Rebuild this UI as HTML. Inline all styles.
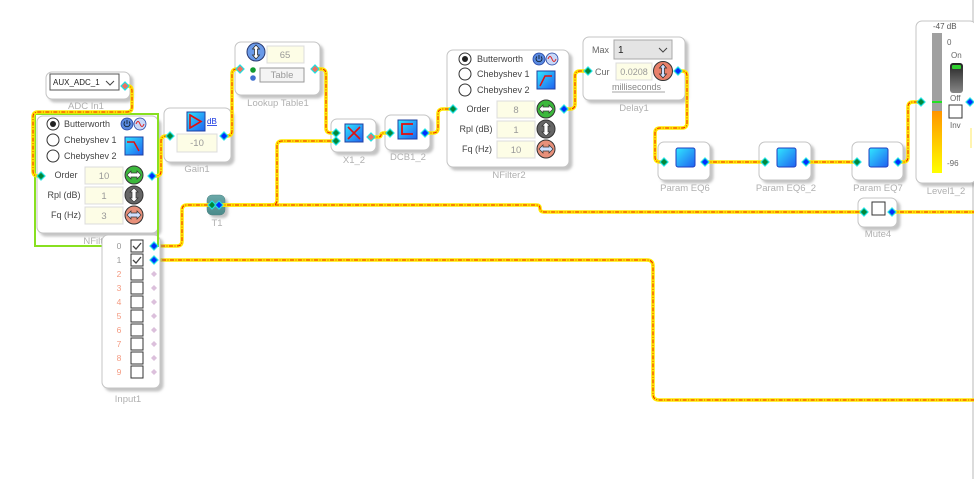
<!DOCTYPE html>
<html><head><meta charset="utf-8">
<style>
html,body{margin:0;padding:0;background:#fff;}
svg{display:block;font-family:"Liberation Sans",sans-serif;}
.lbl{font-size:9.5px;fill:#b0b0b0;text-anchor:middle;}
.t{font-size:9px;fill:#444;}
.tc{font-size:9px;fill:#444;text-anchor:middle;}
.tb{font-size:9.5px;fill:#999;text-anchor:middle;}
.box{fill:#fff;stroke:#c4c4c4;stroke-width:1;}
.tbx{fill:#fdfde6;stroke:#dcdcdc;stroke-width:1;}
.wy{fill:none;stroke:#ffe800;stroke-width:3.5;stroke-linejoin:round;}
.wr{fill:none;stroke:#f02000;stroke-width:1;stroke-dasharray:4 1.5 1 1.5;}
.pg{fill:#00883a;stroke:#20e0e0;stroke-width:1.2;}
.pb{fill:#0030ff;stroke:#20e0e0;stroke-width:1.2;}
.pr{fill:#f07060;stroke:#20e0e0;stroke-width:1.2;}
.pp{fill:#dcc0dc;}
</style></head>
<body>
<svg width="974" height="479" viewBox="0 0 974 479" xmlns="http://www.w3.org/2000/svg">
<defs>
<filter id="sh" x="-10%" y="-10%" width="130%" height="130%">
<feDropShadow dx="3" dy="3" stdDeviation="1.2" flood-color="#888" flood-opacity="0.5"/>
</filter>
<linearGradient id="ic" x1="0" y1="0" x2="1" y2="1">
<stop offset="0" stop-color="#30e8ff"/><stop offset="1" stop-color="#2060f0"/>
</linearGradient>
<linearGradient id="lv" x1="0" y1="0" x2="0" y2="1">
<stop offset="0" stop-color="#ff9500"/><stop offset="1" stop-color="#ffff00"/>
</linearGradient>
<linearGradient id="tg" x1="0" y1="0" x2="0" y2="1">
<stop offset="0" stop-color="#222"/><stop offset="1" stop-color="#888"/>
</linearGradient>
<linearGradient id="teal" x1="0" y1="0" x2="0" y2="1">
<stop offset="0" stop-color="#6aa8a8"/><stop offset="1" stop-color="#4a8a8a"/>
</linearGradient>
</defs>

<line x1="973" y1="0" x2="973" y2="479" stroke="#d0d0d0" stroke-width="1.5"/>

<!-- ===== NODES ===== -->
<g filter="url(#sh)">
<rect class="box" x="46" y="72" width="84" height="27" rx="6"/>
<rect class="box" x="37" y="116" width="121" height="117" rx="6"/>
<rect class="box" x="164" y="108" width="67" height="54" rx="6"/>
<rect class="box" x="235" y="42" width="85" height="53" rx="6"/>
<rect class="box" x="331" y="119" width="45" height="33" rx="6"/>
<rect class="box" x="385" y="115" width="45" height="35" rx="6"/>
<rect class="box" x="447" y="50" width="122" height="117" rx="6"/>
<rect class="box" x="583" y="37" width="102" height="63" rx="6"/>
<rect class="box" x="658" y="142" width="52" height="38" rx="6"/>
<rect class="box" x="759" y="142" width="52" height="38" rx="6"/>
<rect class="box" x="852" y="142" width="51" height="38" rx="6"/>
<rect class="box" x="858" y="198" width="39" height="29" rx="6"/>
<rect class="box" x="916" y="21" width="60" height="162" rx="6"/>
<rect x="207" y="195" width="18" height="20" rx="5" fill="url(#teal)" stroke="#4a8080" stroke-width="0.5"/>
</g>

<!-- labels -->
<text class="lbl" x="86" y="109">ADC In1</text>
<text class="lbl" x="100" y="244">NFilter1</text>
<text class="lbl" x="197" y="172">Gain1</text>
<text class="lbl" x="278" y="106">Lookup Table1</text>
<text class="lbl" x="354" y="163">X1_2</text>
<text class="lbl" x="408" y="160">DCB1_2</text>
<text class="lbl" x="509" y="178">NFilter2</text>
<text class="lbl" x="634" y="111">Delay1</text>
<text class="lbl" x="685" y="191">Param EQ6</text>
<text class="lbl" x="786" y="191">Param EQ6_2</text>
<text class="lbl" x="878" y="191">Param EQ7</text>
<text class="lbl" x="878" y="237">Mute4</text>
<text class="lbl" x="946" y="194">Level1_2</text>
<text class="lbl" x="217" y="226">T1</text>

<rect x="35" y="114" width="123" height="132" fill="none" stroke="#88e020" stroke-width="2"/>

<!-- ===== WIRES ===== -->
<g>
<path class="wy" d="M125,86 H128 Q132,86 132,91 V107 Q132,112 127,112 H38 Q33,112 33,117 V171 Q33,176 38,176 H41"/>
<path class="wy" d="M152,176 H156 Q161,176 161,171 V141 Q161,136 166,136 H170"/>
<path class="wy" d="M224,136 H227 Q232,136 232,131 V74 Q232,69 237,69 H240"/>
<path class="wy" d="M315,69 H321 Q326,69 326,74 V128 Q326,133 331,133 H336"/>
<path class="wy" d="M219,205 H272 Q277,205 277,200 V146 Q277,141 282,141 H336"/>
<path class="wy" d="M219,205 H536 Q540,205 540,208 Q540,212 544,212 H864"/>
<path class="wy" d="M892,212 H974"/>
<path class="wy" d="M153,246 H177 Q182,246 182,241 V210 Q182,205 187,205 H212"/>
<path class="wy" d="M154,260 H647 Q653,260 653,266 V394 Q653,400 659,400 H974"/>
<path class="wy" d="M371,137 H378 Q381,137 381,135 Q381,133 384,133 H390"/>
<path class="wy" d="M425,133 H433 Q438,133 438,128 V114 Q438,109 443,109 H453"/>
<path class="wy" d="M564,109 H570 Q575,109 575,104 V76 Q575,71 580,71 H588"/>
<path class="wy" d="M678,71 H682 Q687,71 687,76 V123 Q687,128 682,128 H660 Q655,128 655,133 V157 Q655,162 660,162 H664"/>
<path class="wy" d="M705,162 H765"/>
<path class="wy" d="M806,162 H857"/>
<path class="wy" d="M898,162 H903 Q908,162 908,157 V107 Q908,102 913,102 H921"/>

<path class="wr" d="M125,86 H128 Q132,86 132,91 V107 Q132,112 127,112 H38 Q33,112 33,117 V171 Q33,176 38,176 H41"/>
<path class="wr" d="M152,176 H156 Q161,176 161,171 V141 Q161,136 166,136 H170"/>
<path class="wr" d="M224,136 H227 Q232,136 232,131 V74 Q232,69 237,69 H240"/>
<path class="wr" d="M315,69 H321 Q326,69 326,74 V128 Q326,133 331,133 H336"/>
<path class="wr" d="M219,205 H272 Q277,205 277,200 V146 Q277,141 282,141 H336"/>
<path class="wr" d="M219,205 H536 Q540,205 540,208 Q540,212 544,212 H864"/>
<path class="wr" d="M892,212 H974"/>
<path class="wr" d="M153,246 H177 Q182,246 182,241 V210 Q182,205 187,205 H212"/>
<path class="wr" d="M154,260 H647 Q653,260 653,266 V394 Q653,400 659,400 H974"/>
<path class="wr" d="M371,137 H378 Q381,137 381,135 Q381,133 384,133 H390"/>
<path class="wr" d="M425,133 H433 Q438,133 438,128 V114 Q438,109 443,109 H453"/>
<path class="wr" d="M564,109 H570 Q575,109 575,104 V76 Q575,71 580,71 H588"/>
<path class="wr" d="M678,71 H682 Q687,71 687,76 V123 Q687,128 682,128 H660 Q655,128 655,133 V157 Q655,162 660,162 H664"/>
<path class="wr" d="M705,162 H765"/>
<path class="wr" d="M806,162 H857"/>
<path class="wr" d="M898,162 H903 Q908,162 908,157 V107 Q908,102 913,102 H921"/>
</g>

<!-- ===== ADC In1 content ===== -->
<rect x="50" y="74" width="69" height="16" fill="#fff" stroke="#555" stroke-width="1"/>
<text x="53" y="85" style="font-size:8px;fill:#222">AUX_ADC_1</text>
<path d="M106,81 L110,85 L114,81" fill="none" stroke="#444" stroke-width="1"/>

<!-- ===== NFilter1 content ===== -->
<circle cx="53" cy="124" r="6" fill="#fff" stroke="#333"/><circle cx="53" cy="124" r="3" fill="#222"/>
<circle cx="53" cy="140" r="6" fill="#fff" stroke="#333"/>
<circle cx="53" cy="156" r="6" fill="#fff" stroke="#333"/>
<text class="t" x="64" y="127">Butterworth</text>
<text class="t" x="64" y="143">Chebyshev 1</text>
<text class="t" x="64" y="159">Chebyshev 2</text>
<circle cx="127" cy="124" r="6" fill="#5a8ae0" stroke="#2040a0" stroke-width="0.8"/>
<path d="M125,121.5 A3,3 0 1 0 129,121.5 M127,120 V124" fill="none" stroke="#123" stroke-width="0.9"/>
<circle cx="140" cy="124" r="6" fill="#c8d8f8" stroke="#2040a0" stroke-width="0.8"/>
<path d="M136,124 Q138,119 140,124 Q142,129 144,124" fill="none" stroke="#e02020" stroke-width="1"/>
<rect x="125" y="137" width="18" height="18" fill="url(#ic)" stroke="#2040a0" stroke-width="1"/>
<path d="M127,142 H134 L139,151" fill="none" stroke="#e01010" stroke-width="1.5"/>
<text class="tc" x="66" y="178">Order</text>
<text class="tc" x="64" y="198">Rpl (dB)</text>
<text class="tc" x="66" y="218">Fq (Hz)</text>
<rect class="tbx" x="85" y="167" width="38" height="17"/><text class="tb" x="104" y="179">10</text>
<rect class="tbx" x="85" y="187" width="38" height="17"/><text class="tb" x="104" y="199">1</text>
<rect class="tbx" x="85" y="207" width="38" height="17"/><text class="tb" x="104" y="219">3</text>
<circle cx="134" cy="175" r="9" fill="#3cb83c" stroke="#333"/>
<polygon points="127,175 131,171 131,173 137,173 137,171 141,175 137,179 137,177 131,177 131,179" fill="#fff" stroke="#333" stroke-width="0.7"/>
<circle cx="134" cy="195" r="9" fill="#666" stroke="#333"/>
<polygon points="134,188 138,192 136,192 136,198 138,198 134,202 130,198 132,198 132,192 130,192" fill="#fff" stroke="#333" stroke-width="0.7"/>
<circle cx="134" cy="215" r="9" fill="#e8907a" stroke="#333"/>
<polygon points="127,215 131,211 131,213 137,213 137,211 141,215 137,219 137,217 131,217 131,219" fill="#cfe0ff" stroke="#333" stroke-width="0.7"/>
<polygon class="pg" points="37,176 41,172 45,176 41,180"/>
<polygon class="pb" points="148,176 152,172 156,176 152,180"/>
<polygon class="pr" points="121,86 125,82 129,86 125,90"/>

<!-- ===== Input1 ===== -->
<g filter="url(#sh)">
<rect class="box" x="102" y="235" width="58" height="153" rx="6"/>
</g>
<text class="lbl" x="128" y="402">Input1</text>
<line x1="150" y1="246" x2="159" y2="246" stroke="#88e020" stroke-width="2"/>
<line x1="158" y1="235" x2="158" y2="247" stroke="#88e020" stroke-width="2"/>
<g style="font-size:8.5px" text-anchor="middle">
<text x="119" y="249" fill="#999">0</text>
<text x="119" y="263" fill="#999">1</text>
<text x="119" y="277" fill="#f49a80">2</text>
<text x="119" y="291" fill="#f49a80">3</text>
<text x="119" y="305" fill="#f49a80">4</text>
<text x="119" y="319" fill="#f49a80">5</text>
<text x="119" y="333" fill="#f49a80">6</text>
<text x="119" y="347" fill="#f49a80">7</text>
<text x="119" y="361" fill="#f49a80">8</text>
<text x="119" y="375" fill="#f49a80">9</text>
</g>
<g fill="#fff" stroke="#333" stroke-width="1">
<rect x="131" y="240" width="12" height="12"/>
<rect x="131" y="254" width="12" height="12"/>
<rect x="131" y="268" width="12" height="12"/>
<rect x="131" y="282" width="12" height="12"/>
<rect x="131" y="296" width="12" height="12"/>
<rect x="131" y="310" width="12" height="12"/>
<rect x="131" y="324" width="12" height="12"/>
<rect x="131" y="338" width="12" height="12"/>
<rect x="131" y="352" width="12" height="12"/>
<rect x="131" y="366" width="12" height="12"/>
</g>
<path d="M133,246 L136,249 L141,243 M133,260 L136,263 L141,257" fill="none" stroke="#444" stroke-width="1.3"/>
<polygon class="pb" points="150,246 154,242 158,246 154,250"/>
<polygon class="pb" points="150,260 154,256 158,260 154,264"/>
<g class="pp">
<polygon points="151,274 154,271 157,274 154,277"/>
<polygon points="151,288 154,285 157,288 154,291"/>
<polygon points="151,302 154,299 157,302 154,305"/>
<polygon points="151,316 154,313 157,316 154,319"/>
<polygon points="151,330 154,327 157,330 154,333"/>
<polygon points="151,344 154,341 157,344 154,347"/>
<polygon points="151,358 154,355 157,358 154,361"/>
<polygon points="151,372 154,369 157,372 154,375"/>
</g>

<!-- ===== Gain1 ===== -->
<rect x="187" y="112" width="18" height="19" fill="url(#ic)" stroke="#2040a0"/>
<polygon points="190,115 201,121.5 190,128" fill="none" stroke="#e01010" stroke-width="1.6"/>
<text x="207" y="124" style="font-size:8px;fill:#1030e0">dB</text>
<line x1="207" y1="125.5" x2="217" y2="125.5" stroke="#1030e0" stroke-width="0.8"/>
<rect class="tbx" x="177" y="134" width="40" height="18"/><text class="tb" x="197" y="146">-10</text>
<polygon class="pg" points="166,136 170,132 174,136 170,140"/>
<polygon class="pb" points="220,136 224,132 228,136 224,140"/>

<!-- ===== Lookup Table1 ===== -->
<circle cx="256" cy="52" r="9" fill="#6a9ae8" stroke="#2a3a70"/>
<polygon points="256,45 259.5,49 257.5,49 257.5,55 259.5,55 256,59 252.5,55 254.5,55 254.5,49 252.5,49" fill="#fff" stroke="#222" stroke-width="0.7"/>
<rect class="tbx" x="267" y="46" width="37" height="17"/><text class="tb" x="285" y="58">65</text>
<circle cx="253" cy="70" r="2.8" fill="#119a30"/>
<circle cx="253" cy="78" r="2.8" fill="#4070d0"/>
<rect x="260" y="68" width="44" height="14" fill="#f4f4f4" stroke="#999"/>
<text class="tb" x="282" y="78">Table</text>
<polygon class="pr" points="236,69 240,65 244,69 240,73"/>
<polygon class="pr" points="311,69 315,65 319,69 315,73"/>

<!-- ===== X1_2 ===== -->
<rect x="345" y="124" width="18" height="18" fill="url(#ic)" stroke="#2040a0"/>
<path d="M348,127 L360,139 M360,127 L348,139" stroke="#e01010" stroke-width="1.6"/>
<polygon class="pg" points="332,133 336,129 340,133 336,137"/>
<polygon class="pg" points="332,141 336,137 340,141 336,145"/>
<polygon class="pr" points="367,137 371,133 375,137 371,141"/>

<!-- ===== DCB1_2 ===== -->
<rect x="398" y="120" width="19" height="19" fill="url(#ic)" stroke="#2040a0"/>
<path d="M402,135 V124 H413" fill="none" stroke="#e01010" stroke-width="1.8"/>
<path d="M402,134 H413" stroke="#e01010" stroke-width="1.8"/>
<polygon class="pg" points="386,133 390,129 394,133 390,137"/>
<polygon class="pb" points="421,133 425,129 429,133 425,137"/>

<!-- ===== NFilter2 ===== -->
<circle cx="465" cy="59" r="6" fill="#fff" stroke="#333"/><circle cx="465" cy="59" r="3" fill="#222"/>
<circle cx="465" cy="74" r="6" fill="#fff" stroke="#333"/>
<circle cx="465" cy="90" r="6" fill="#fff" stroke="#333"/>
<text class="t" x="477" y="62">Butterworth</text>
<text class="t" x="477" y="77">Chebyshev 1</text>
<text class="t" x="477" y="93">Chebyshev 2</text>
<circle cx="539" cy="59" r="6" fill="#5a8ae0" stroke="#2040a0" stroke-width="0.8"/>
<path d="M537,56.5 A3,3 0 1 0 541,56.5 M539,55 V59" fill="none" stroke="#123" stroke-width="0.9"/>
<circle cx="552" cy="59" r="6" fill="#c8d8f8" stroke="#2040a0" stroke-width="0.8"/>
<path d="M548,59 Q550,54 552,59 Q554,64 556,59" fill="none" stroke="#e02020" stroke-width="1"/>
<rect x="537" y="71" width="18" height="18" fill="url(#ic)" stroke="#2040a0"/>
<path d="M540,86 L545,76 H552" fill="none" stroke="#e01010" stroke-width="1.5"/>
<text class="tc" x="478" y="112">Order</text>
<text class="tc" x="476" y="132">Rpl (dB)</text>
<text class="tc" x="477" y="152">Fq (Hz)</text>
<rect class="tbx" x="497" y="101" width="38" height="17"/><text class="tb" x="516" y="113">8</text>
<rect class="tbx" x="497" y="121" width="38" height="17"/><text class="tb" x="516" y="133">1</text>
<rect class="tbx" x="497" y="141" width="38" height="17"/><text class="tb" x="516" y="153">10</text>
<circle cx="546" cy="109" r="9" fill="#3cb83c" stroke="#333"/>
<polygon points="539,109 543,105 543,107 549,107 549,105 553,109 549,113 549,111 543,111 543,113" fill="#fff" stroke="#333" stroke-width="0.7"/>
<circle cx="546" cy="129" r="9" fill="#666" stroke="#333"/>
<polygon points="546,122 550,126 548,126 548,132 550,132 546,136 542,132 544,132 544,126 542,126" fill="#fff" stroke="#333" stroke-width="0.7"/>
<circle cx="546" cy="149" r="9" fill="#e8907a" stroke="#333"/>
<polygon points="539,149 543,145 543,147 549,147 549,145 553,149 549,153 549,151 543,151 543,153" fill="#cfe0ff" stroke="#333" stroke-width="0.7"/>
<polygon class="pg" points="449,109 453,105 457,109 453,113"/>
<polygon class="pb" points="560,109 564,105 568,109 564,113"/>

<!-- ===== Delay1 ===== -->
<text class="t" x="592" y="53" style="fill:#666">Max</text>
<rect x="614" y="40" width="58" height="19" fill="#e4e4e4" stroke="#a8a8a8"/>
<text x="618" y="53" style="font-size:10px;fill:#222">1</text>
<path d="M659,48 L663,52 L667,48" fill="none" stroke="#444" stroke-width="1"/>
<text class="t" x="595" y="75" style="fill:#666">Cur</text>
<rect class="tbx" x="616" y="63" width="36" height="17"/><text class="tb" x="634" y="75" style="font-size:9px">0.0208</text>
<circle cx="663" cy="71" r="9.5" fill="#e8806a" stroke="#333"/>
<polygon points="663,64 666.5,68 664.5,68 664.5,74 666.5,74 663,78 659.5,74 661.5,74 661.5,68 659.5,68" fill="#cfe0ff" stroke="#222" stroke-width="0.7"/>
<text x="612" y="90" style="font-size:9px;fill:#888">milliseconds</text>
<line x1="612" y1="92" x2="665" y2="92" stroke="#888" stroke-width="0.8"/>
<polygon class="pg" points="584,71 588,67 592,71 588,75"/>
<polygon class="pb" points="674,71 678,67 682,71 678,75"/>

<!-- ===== Param EQs ===== -->
<rect x="676" y="148" width="19" height="19" rx="2" fill="url(#ic)" stroke="#2040c0"/>
<rect x="777" y="148" width="19" height="19" rx="2" fill="url(#ic)" stroke="#2040c0"/>
<rect x="869" y="148" width="19" height="19" rx="2" fill="url(#ic)" stroke="#2040c0"/>
<polygon class="pg" points="660,162 664,158 668,162 664,166"/>
<polygon class="pb" points="701,162 705,158 709,162 705,166"/>
<polygon class="pg" points="761,162 765,158 769,162 765,166"/>
<polygon class="pb" points="802,162 806,158 810,162 806,166"/>
<polygon class="pg" points="853,162 857,158 861,162 857,166"/>
<polygon class="pb" points="894,162 898,158 902,162 898,166"/>

<!-- ===== Mute4 ===== -->
<rect x="872" y="202" width="13" height="13" fill="#fff" stroke="#333"/>
<polygon class="pg" points="860,212 864,208 868,212 864,216"/>
<polygon class="pb" points="888,212 892,208 896,212 892,216"/>

<!-- ===== T1 ports ===== -->
<polygon class="pg" points="208,205 212,201 216,205 212,209"/>
<polygon class="pb" points="215,205 219,201 223,205 219,209"/>

<!-- ===== Level1_2 ===== -->
<text x="933" y="29" style="font-size:8px;fill:#555">-47 dB</text>
<rect x="932" y="33" width="10" height="78" fill="#a0a0a0"/>
<rect x="932" y="111" width="10" height="62" fill="url(#lv)"/>
<rect x="932" y="101" width="10" height="2" fill="#22e022"/>
<text x="947" y="45" style="font-size:8px;fill:#666">0</text>
<text x="951" y="58" style="font-size:8px;fill:#666">On</text>
<rect x="950" y="63" width="13" height="30" rx="3" fill="url(#tg)"/>
<rect x="952" y="65" width="9" height="4" rx="1" fill="#30d030"/>
<text x="950" y="101" style="font-size:8px;fill:#666">Off</text>
<rect x="949" y="105" width="13" height="13" fill="#fff" stroke="#333"/>
<text x="950" y="128" style="font-size:8px;fill:#666">Inv</text>
<text x="947" y="166" style="font-size:8px;fill:#666">-96</text>
<line x1="971" y1="128" x2="971" y2="148" stroke="#ffe860" stroke-width="1"/>
<polygon class="pg" points="917,102 921,98 925,102 921,106"/>
<polygon class="pb" points="966,102 970,98 974,102 970,106"/>
</svg>
</body></html>
